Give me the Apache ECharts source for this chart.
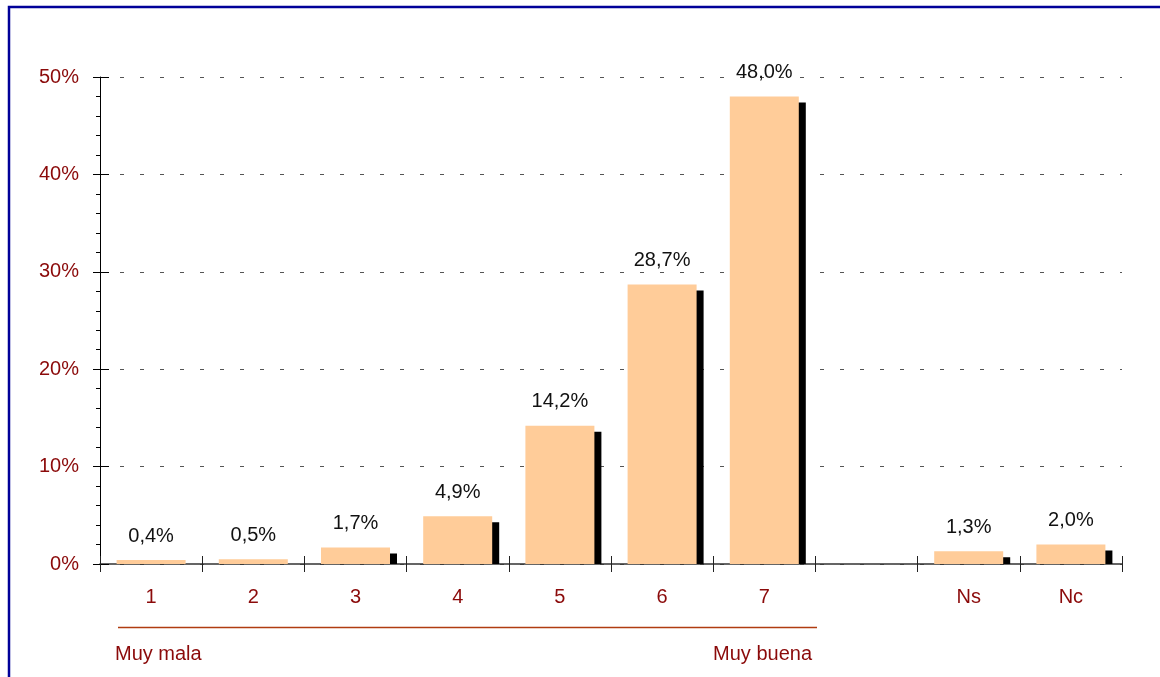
<!DOCTYPE html>
<html>
<head>
<meta charset="utf-8">
<script src="https://cdn.jsdelivr.net/npm/echarts@6/dist/echarts.min.js"></script>
<style>
html,body{margin:0;padding:0;background:#fff;}
#chart{width:1160px;height:677px;}
</style>
</head>
<body>
<div id="chart"></div>
<script>
var categories = ['1', '2', '3', '4', '5', '6', '7', '', 'Ns', 'Nc'];
var values = [0.4, 0.5, 1.7, 4.9, 14.2, 28.7, 48.0, null, 1.3, 2.0];
var yTicks = [0, 10, 20, 30, 40, 50];
var scaleNotes = ['Muy mala', 'Muy buena'];

var FONT = "'Liberation Sans', Arial, sans-serif";
var FS = 20;
var RED = '#8B0A0A';
var BAR_W = 69;

var chart = echarts.init(document.getElementById('chart'), null, {renderer: 'canvas'});

var option = {
  backgroundColor: '#fff',
  animation: false,
  grid: {left: 100, right: 38, top: 77, bottom: 113, containLabel: false},
  xAxis: [{
    type: 'category',
    data: categories,
    boundaryGap: true,
    axisLine: {show: true, lineStyle: {color: '#333', width: 1.5}},
    axisTick: {show: true, length: 8, inside: false, lineStyle: {color: '#222', width: 1}},
    axisLabel: {color: RED, fontFamily: FONT, fontSize: FS, margin: 23},
    splitLine: {show: false}
  }, {
    type: 'category',
    data: categories,
    position: 'bottom',
    boundaryGap: true,
    axisLine: {show: false},
    axisTick: {show: true, length: 8, inside: true, lineStyle: {color: '#222', width: 1}},
    axisLabel: {show: false},
    splitLine: {show: false}
  }],
  yAxis: [{
    type: 'value',
    min: yTicks[0],
    max: yTicks[yTicks.length - 1],
    interval: 10,
    axisLine: {show: true, lineStyle: {color: '#000', width: 1}},
    axisTick: {show: true, length: 7, lineStyle: {color: '#000', width: 1}},
    minorTick: {show: true, splitNumber: 5, length: 4, lineStyle: {color: '#000', width: 1}},
    axisLabel: {color: RED, fontFamily: FONT, fontSize: FS, margin: 21, formatter: '{value}%'},
    splitLine: {show: true, lineStyle: {color: '#555', width: 1, type: [4, 16], dashOffset: 0}}
  }, {
    type: 'value',
    min: yTicks[0],
    max: yTicks[yTicks.length - 1],
    interval: 10,
    position: 'left',
    axisLine: {show: false},
    axisTick: {show: true, inside: true, length: 9, lineStyle: {color: '#000', width: 1}},
    axisLabel: {show: false},
    splitLine: {show: false}
  }],
  series: [{
    name: 'shadow',
    type: 'custom',
    z: 1,
    xAxisIndex: 0,
    yAxisIndex: 0,
    data: values.map(function (v, i) { return [i, v]; }),
    renderItem: function (params, api) {
      var v = api.value(1);
      if (v == null || isNaN(v)) return null;
      var top = api.coord([api.value(0), v]);
      var base = api.coord([api.value(0), 0]);
      var x = top[0] - BAR_W / 2 + 7;
      var y = Math.min(top[1] + 6, base[1]);
      return {
        type: 'rect',
        shape: {x: x, y: y, width: BAR_W, height: base[1] - y},
        style: {fill: '#000'}
      };
    }
  }, {
    name: 'value',
    type: 'bar',
    z: 3,
    xAxisIndex: 0,
    yAxisIndex: 0,
    data: values,
    barWidth: BAR_W,
    itemStyle: {color: '#FFCC99'},
    label: {
      show: true,
      position: 'top',
      distance: 14,
      color: '#111',
      fontFamily: FONT,
      fontSize: FS,
      formatter: function (p) {
        if (p.value == null) return '';
        return p.value.toFixed(1).replace('.', ',') + '%';
      }
    }
  }],
  graphic: [{
    type: 'rect',
    silent: true,
    shape: {x: 9, y: 7, width: 1300, height: 800},
    style: {fill: 'none', stroke: '#000099', lineWidth: 2.5}
  }, {
    type: 'line',
    silent: true,
    shape: {x1: 118, y1: 627.5, x2: 817, y2: 627.5},
    style: {stroke: '#B03C10', lineWidth: 1.5}
  }, {
    type: 'text',
    silent: true,
    x: 115, y: 654,
    style: {text: scaleNotes[0], fill: RED, font: FS + 'px ' + FONT, textAlign: 'left', textVerticalAlign: 'middle'}
  }, {
    type: 'text',
    silent: true,
    x: 812, y: 654,
    style: {text: scaleNotes[1], fill: RED, font: FS + 'px ' + FONT, textAlign: 'right', textVerticalAlign: 'middle'}
  }]
};

chart.setOption(option);
</script>
</body>
</html>
